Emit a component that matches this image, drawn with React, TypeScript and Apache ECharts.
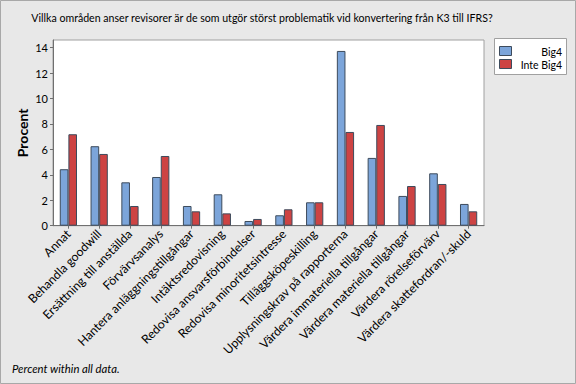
import React, { useEffect, useRef } from "react";
import * as echarts from "echarts";

const categories = [
  "Annat",
  "Behandla goodwill",
  "Ersättning till anställda",
  "Förvärvsanalys",
  "Hantera anläggningstillgångar",
  "Intäktsredovisning",
  "Redovisa ansvarsförbindelser",
  "Redovisa minoritetsintresse",
  "Tilläggsköpeskilling",
  "Upplysningskrav på rapporterna",
  "Värdera immateriella tillgångar",
  "Värdera materiella tillgångar",
  "Värdera rörelseförvärv",
  "Värdera skattefordran/-skuld",
];
const big4 = [4.44, 6.25, 3.41, 3.83, 1.55, 2.47, 0.37, 0.82, 1.84, 13.74, 5.33, 2.34, 4.12, 1.71];
const inteBig4 = [7.19, 5.64, 1.55, 5.48, 1.13, 0.97, 0.53, 1.29, 1.84, 7.37, 7.92, 3.12, 3.28, 1.13];
const yTicks = [0, 2, 4, 6, 8, 10, 12, 14];
const seriesNames = ["Big4", "Inte Big4"];
const title = "Villka områden anser revisorer är de som utgör störst problematik vid konvertering från K3 till IFRS?";
const footnote = "Percent within all data.";

const BLUE = "#7ca5da";
const RED = "#cd4343";
const EDGE = "#3d4b5c";
const FONT = "Lato, 'DejaVu Sans', sans-serif";

export default function App() {
  const ref = useRef<HTMLDivElement>(null);
  useEffect(() => {
    document.body.style.margin = "0";
    const chart = echarts.init(ref.current!, null, { renderer: "svg" });
    chart.setOption({
      animation: false,
      backgroundColor: "#e8e8e8",
      textStyle: { fontFamily: FONT },
      grid: {
        left: 53,
        top: 40,
        width: 431,
        height: 185.7,
        show: true,
        backgroundColor: "#ffffff",
        borderColor: "#a0a0a0",
        borderWidth: 1,
      },
      xAxis: {
        type: "category",
        data: categories,
        axisLine: { show: true, lineStyle: { color: "#707070" } },
        axisTick: { show: true, alignWithLabel: true, length: 3, lineStyle: { color: "#707070" } },
        axisLabel: {
          rotate: 45,
          interval: 0,
          margin: 6,
          fontSize: 12.2,
          color: "#000",
          fontFamily: FONT,
        },
        splitLine: { show: false },
      },
      yAxis: {
        type: "value",
        min: 0,
        max: 14.6,
        name: "Procent",
        nameLocation: "middle",
        nameRotate: 90,
        nameGap: 24,
        nameMoveOverlap: false,
        nameTextStyle: { fontSize: 14, fontWeight: "bold", color: "#000", fontFamily: FONT },
        axisLine: { show: true, lineStyle: { color: "#707070" } },
        axisTick: { show: true, length: 3, customValues: yTicks, lineStyle: { color: "#707070" } },
        axisLabel: { customValues: yTicks, fontSize: 11, color: "#000", margin: 5, fontFamily: FONT },
        splitLine: { show: false },
      },
      series: [
        {
          name: seriesNames[0],
          type: "bar",
          data: big4,
          barWidth: "28%",
          barGap: "0%",
          itemStyle: { color: BLUE, borderColor: EDGE, borderWidth: 1 },
        },
        {
          name: seriesNames[1],
          type: "bar",
          data: inteBig4,
          barWidth: "28%",
          barGap: "0%",
          itemStyle: { color: RED, borderColor: EDGE, borderWidth: 1 },
        },
      ],
      graphic: [
        {
          type: "rect",
          shape: { x: 0.5, y: 0.5, width: 575, height: 383 },
          style: { fill: "none", stroke: "#a8a8a8", lineWidth: 1 },
          silent: true,
        },
        {
          type: "text",
          x: 262,
          y: 18,
          style: {
            text: title,
            fontSize: 10.6,
            fontFamily: FONT,
            fill: "#000",
            align: "center",
            verticalAlign: "middle",
          },
        },
        {
          type: "rect",
          shape: { x: 494.5, y: 38.5, width: 72, height: 36 },
          style: { fill: "#ffffff", stroke: "#a0a0a0", lineWidth: 1 },
        },
        {
          type: "rect",
          shape: { x: 499.5, y: 46.5, width: 12, height: 9 },
          style: { fill: BLUE, stroke: EDGE, lineWidth: 1 },
        },
        {
          type: "rect",
          shape: { x: 499.5, y: 59.5, width: 12, height: 9 },
          style: { fill: RED, stroke: EDGE, lineWidth: 1 },
        },
        {
          type: "text",
          x: 562,
          y: 51.5,
          style: { text: seriesNames[0], fontSize: 10.5, fontFamily: FONT, fill: "#000", align: "right", verticalAlign: "middle" },
        },
        {
          type: "text",
          x: 562,
          y: 64.5,
          style: { text: seriesNames[1], fontSize: 10.5, fontFamily: FONT, fill: "#000", align: "right", verticalAlign: "middle" },
        },
        {
          type: "text",
          x: 12,
          y: 368,
          style: { text: footnote, fontSize: 11.3, fontStyle: "italic", fontFamily: FONT, fill: "#000", align: "left", verticalAlign: "middle" },
        },
      ],
    });
    return () => chart.dispose();
  }, []);
  return <div ref={ref} style={{ width: 576, height: 384 }} />;
}
